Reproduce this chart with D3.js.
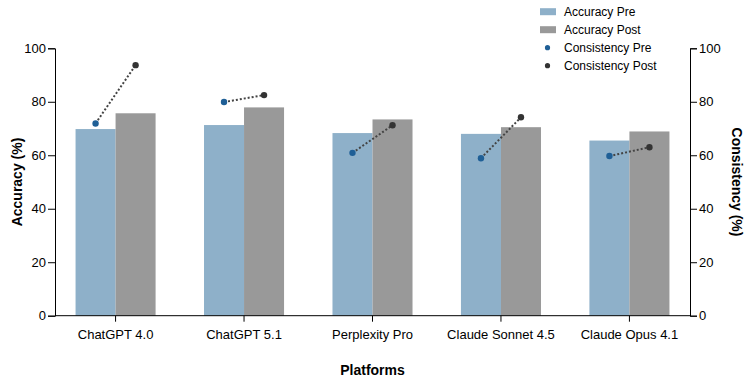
<!DOCTYPE html>
<html lang="en">
<head>
<meta charset="UTF-8">
<title>Accuracy and Consistency by Platform</title>
<script src="https://d3js.org/d3.v7.min.js"></script>
<style>
  body { margin: 0; background: #fff; }
  svg { display: block; font-family: "Liberation Sans", Arial, sans-serif; }
  .tick text { font-size: 13px; fill: #000; }
  .tick line, .domain { stroke: #000; }
  .axis-title { font-size: 14px; font-weight: bold; }
  .legend text { font-size: 12px; }
</style>
</head>
<body>
<svg id="chart" width="750" height="383"></svg>
<script>
// data
const platforms = ["ChatGPT 4.0", "ChatGPT 5.1", "Perplexity Pro", "Claude Sonnet 4.5", "Claude Opus 4.1"];
const accuracyPre = [69.8, 71.3, 68.3, 68.0, 65.5];
const accuracyPost = [75.7, 77.9, 73.4, 70.5, 68.9];
const consistencyPre = [71.9, 79.9, 60.9, 58.9, 59.7];
const consistencyPost = [93.7, 82.5, 71.2, 74.2, 63.0];
const yTicks = [0, 20, 40, 60, 80, 100];

const w = 750, h = 383;
const margin = {top: 48.3, right: 60, bottom: 67.3, left: 55};

const svg = d3.select("#chart");
const g = svg.append("g").attr("transform", `translate(${margin.left},${margin.top})`);
const iw = w - margin.left - margin.right;
const ih = h - margin.top - margin.bottom;

const x = d3.scaleBand().domain(platforms).range([0, iw])
  .paddingInner(0.377).paddingOuter(0.16);
const xs = d3.scaleBand().domain(["pre", "post"]).range([0, x.bandwidth()]);
const yL = d3.scaleLinear().domain([0, 100]).range([ih, 0]);
const yR = d3.scaleLinear().domain([0, 100]).range([ih, 0]);

const rows = platforms.map((p, i) => ({
  p, aPre: accuracyPre[i], aPost: accuracyPost[i], cPre: consistencyPre[i], cPost: consistencyPost[i]
}));

// bars
const grp = g.selectAll("g.grp").data(rows).join("g")
  .attr("class", "grp")
  .attr("transform", d => `translate(${x(d.p)},0)`);

grp.append("rect")
  .attr("x", xs("pre")).attr("width", xs.bandwidth())
  .attr("y", d => yL(d.aPre)).attr("height", d => ih - yL(d.aPre))
  .attr("fill", "#8eb0c9");
grp.append("rect")
  .attr("x", xs("post")).attr("width", xs.bandwidth())
  .attr("y", d => yL(d.aPost)).attr("height", d => ih - yL(d.aPost))
  .attr("fill", "#999999");

// consistency pre -> post
grp.append("line")
  .attr("x1", xs("pre") + xs.bandwidth() / 2).attr("y1", d => yR(d.cPre))
  .attr("x2", xs("post") + xs.bandwidth() / 2).attr("y2", d => yR(d.cPost))
  .attr("stroke", "#444").attr("stroke-width", 2).attr("stroke-dasharray", "2,2");
grp.append("circle")
  .attr("cx", xs("pre") + xs.bandwidth() / 2).attr("cy", d => yR(d.cPre))
  .attr("r", 3.2).attr("fill", "#1f5f96");
grp.append("circle")
  .attr("cx", xs("post") + xs.bandwidth() / 2).attr("cy", d => yR(d.cPost))
  .attr("r", 3.2).attr("fill", "#333");

// axes
g.append("g").attr("transform", `translate(0,${ih})`)
  .call(d3.axisBottom(x).tickSizeOuter(0).tickPadding(8))
  .call(a => a.select(".domain").attr("d", `M0,0H${iw}`));
g.append("g").call(d3.axisLeft(yL).tickValues(yTicks).tickSizeOuter(0).tickSize(7).tickPadding(2));
g.append("g").attr("transform", `translate(${iw},0)`)
  .call(d3.axisRight(yR).tickValues(yTicks).tickSizeOuter(0).tickSize(7).tickPadding(2));

// axis titles
svg.append("text").attr("class", "axis-title")
  .attr("transform", `translate(22,${margin.top + ih / 2}) rotate(-90)`)
  .attr("text-anchor", "middle").text("Accuracy (%)");
svg.append("text").attr("class", "axis-title")
  .attr("transform", `translate(732,${margin.top + ih / 2}) rotate(90)`)
  .attr("text-anchor", "middle").text("Consistency (%)");
svg.append("text").attr("class", "axis-title")
  .attr("x", margin.left + iw / 2).attr("y", 375)
  .attr("text-anchor", "middle").text("Platforms");

// legend
const legendItems = [
  {label: "Accuracy Pre", type: "rect", color: "#8eb0c9"},
  {label: "Accuracy Post", type: "rect", color: "#999999"},
  {label: "Consistency Pre", type: "dot", color: "#1f5f96"},
  {label: "Consistency Post", type: "dot", color: "#333"}
];
const leg = svg.append("g").attr("class", "legend").attr("transform", "translate(540,11.7)");
const li = leg.selectAll("g").data(legendItems).join("g")
  .attr("transform", (d, i) => `translate(0,${i * 18})`);
li.filter(d => d.type === "rect").append("rect")
  .attr("x", 0).attr("y", -3.5).attr("width", 16).attr("height", 7).attr("fill", d => d.color);
li.filter(d => d.type === "dot").append("circle")
  .attr("cx", 7.5).attr("cy", 0).attr("r", 2.6).attr("fill", d => d.color);
li.append("text").attr("x", 24).attr("y", 0).attr("dy", "0.35em").text(d => d.label);
</script>
</body>
</html>
